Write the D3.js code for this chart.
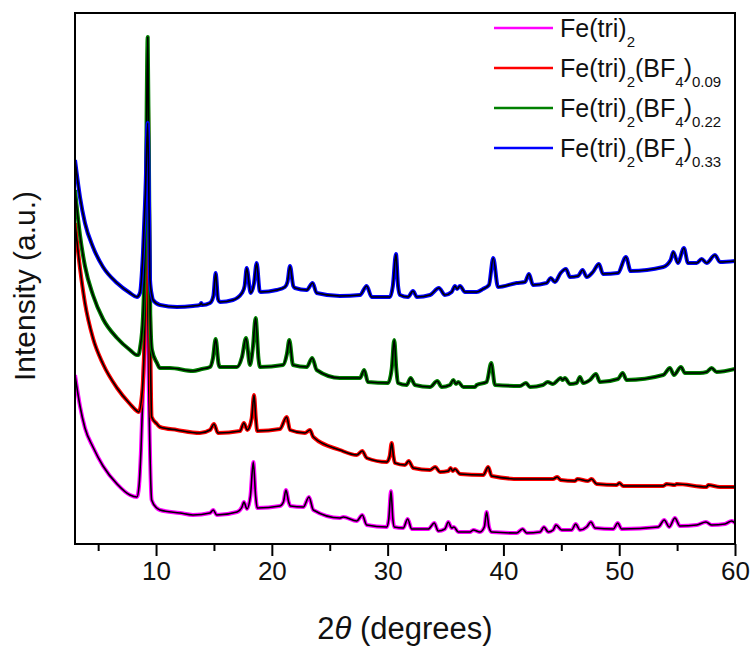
<!DOCTYPE html>
<html>
<head>
<meta charset="utf-8">
<script src="https://cdn.jsdelivr.net/npm/d3@7/dist/d3.min.js"></script>
<style>
  body { margin: 0; background: #fff; }
  text { font-family: "Liberation Sans", Arial, sans-serif; fill: #111; }
</style>
</head>
<body>
<div id="GraphHolder"></div>
<script>
// [2theta (deg), intensity (a.u.)]
var feTri2 = [
  [3.0,169],[3.43,138],[3.86,116],[4.55,97],[5.42,78],[6.63,60],[7.75,49],[8.35,47],
  [8.53,58],[8.7,94],[8.95,180],[9.2,300],[9.38,150],[9.62,44],[10.06,36],[10.34,34],[12.07,31],
  [13.19,29],[14.66,31],[14.94,34],[15.24,29],[16.99,32],[17.42,37],[17.59,42],[17.85,35],
  [18.15,48],[18.4,82],[18.6,48],[18.74,36],[20.7,38],[21.0,42],[21.22,54],[21.45,42],[21.6,38],
  [22.72,37],[23.21,47],[23.58,34],[25.88,26],[26.17,27],[27.33,23],[27.81,29],[28.19,19],
  [29.92,17],[30.1,25],[30.29,53],[30.45,25],[30.57,17],[31.35,16],[31.73,25],[32.08,15],
  [33.51,15],[34.03,21],[34.37,13],[34.95,15],[35.24,22],[35.53,16],[35.73,17],[36.1,12],
  [37.11,12],[37.4,14],[37.97,12],[38.35,17],[38.55,32],[38.75,17],[38.98,12],[41.14,11],
  [41.66,15],[42.01,11],[43.16,12],[43.5,17],[43.87,12],[44.3,14],[44.54,19],[45.03,14],
  [45.89,14],[46.24,20],[46.61,14],[47.19,17],[47.56,22],[47.91,16],[49.49,15],[49.87,21],
  [50.21,15],[53.37,17],[53.89,24],[54.32,17],[54.81,26],[55.24,18],[56.69,19],[57.49,22],
  [57.98,19],[59.13,20],[59.71,23],[60.0,21]
];
var feTri2BF4_009 = [
  [3.0,321],[3.43,276],[3.86,241],[4.55,206],[5.42,180],[6.63,156],[7.75,140],[8.35,133],
  [8.5,132],[8.79,150],[9.05,230],[9.3,444],[9.45,260],[9.62,127],[10.08,120],[10.34,117],
  [11.81,114],[13.79,111],[14.66,114],[15.0,120],[15.35,111],[17.25,113],[17.59,121],[17.88,114],
  [18.25,125],[18.46,149],[18.62,125],[18.74,113],[20.7,115],[21.28,127],[21.57,114],[22.86,111],
  [23.29,114],[23.58,107],[25.88,94],[27.33,89],[27.81,93],[28.19,86],[29.92,82],[30.18,88],
  [30.35,101],[30.5,88],[30.63,81],[31.5,79],[31.82,83],[32.21,76],[33.66,74],[34.11,77],
  [34.52,72],[35.24,73],[35.44,76],[35.62,73],[35.82,75],[36.25,70],[38.26,69],[38.69,77],
  [38.98,68],[41.43,65],[44.28,65],[44.65,67],[44.94,64],[46.18,63],[46.38,65],[47.3,63],
  [47.62,65],[48.05,60],[49.78,59],[50.01,61],[50.35,58],[53.8,58],[54.1,60],[54.81,59],
  [54.96,60],[57.55,57],[57.69,59],[58.7,57],[60.0,57]
];
var feTri2BF4_022 = [
  [3.0,354],[3.43,309],[3.86,278],[4.55,249],[5.42,225],[6.63,206],[7.75,194],[8.35,189],
  [8.47,189],[8.63,197],[8.87,227],[9.1,330],[9.28,507],[9.42,330],[9.5,230],
  [9.65,194],[10.08,181],[10.34,176],[11.2,176],[13.19,173],[13.97,175],[14.66,177],[14.9,185],
  [15.15,205],[15.4,180],[15.52,177],[16.99,177],[17.42,187],[17.77,206],[18.11,179],[18.35,195],
  [18.6,226],[18.85,185],[18.98,177],[20.96,179],[21.3,190],[21.51,204],[21.83,179],[23.01,177],
  [23.49,186],[23.87,174],[25.88,166],[27.61,166],[27.98,174],[28.3,162],[30.03,161],[30.35,175],
  [30.57,204],[30.75,175],[30.89,161],[31.64,159],[31.99,166],[32.36,159],[33.66,157],[34.29,163],
  [34.67,157],[35.38,159],[35.67,164],[35.9,160],[36.1,162],[36.53,157],[37.54,157],[37.69,159],
  [38.55,162],[38.95,181],[39.27,159],[41.43,158],[41.95,161],[42.29,157],[43.41,159],[43.82,162],
  [44.28,160],[44.71,164],[44.94,166],[45.12,164],[45.31,166],[45.75,160],[46.32,161],[46.61,167],
  [46.89,161],[47.47,164],[47.99,170],[48.34,162],[49.89,165],[50.3,171],[50.64,164],[53.8,169],
  [54.38,176],[54.73,169],[55.33,177],[55.68,171],[56.97,171],[57.55,172],[57.98,176],[58.41,172],
  [60.0,175]
];
var feTri2BF4_033 = [
  [3.0,384],[3.43,347],[3.86,321],[4.55,297],[5.42,277],[6.63,261],[7.75,251],[8.35,247],
  [8.61,251],[8.87,291],[9.08,350],[9.28,421],[9.4,330],[9.48,264],[9.65,248],[9.74,244],
  [10.34,239],[11.81,237],[13.19,238],[13.79,239],[13.9,241],[14.0,239],[14.66,241],[14.95,248],
  [15.15,271],[15.35,245],[15.52,242],[16.64,244],[17.42,251],[17.65,258],[17.83,276],[18.17,251],
  [18.45,260],[18.69,281],[18.95,253],[19.04,252],[20.42,254],[21.13,257],[21.35,262],[21.57,278],
  [21.85,258],[22.0,256],[23.01,254],[23.52,261],[23.87,251],[25.88,248],[27.61,249],[28.19,258],
  [28.62,247],[30.2,247],[30.45,258],[30.72,290],[30.9,258],[31.07,249],[31.76,247],[32.19,253],
  [32.53,247],[33.66,249],[34.43,256],[34.95,249],[35.53,252],[35.82,258],[35.99,255],[36.25,258],
  [36.68,252],[37.69,252],[38.23,255],[38.75,259],[39.12,286],[39.53,257],[41.14,261],[41.86,262],
  [42.21,270],[42.55,259],[43.73,261],[44.08,266],[44.45,262],[44.94,271],[45.4,275],[45.75,267],
  [46.44,268],[46.84,274],[47.19,267],[47.73,272],[48.25,280],[48.6,270],[49.89,271],[50.58,287],
  [50.99,273],[53.8,277],[54.44,284],[54.67,292],[55.07,281],[55.59,296],[55.94,281],[56.69,281],
  [57.12,285],[57.55,281],[58.27,289],[58.7,282],[60.0,283]
];

var seriesData = [feTri2, feTri2BF4_009, feTri2BF4_022, feTri2BF4_033];
// legend label pieces: [text, isSubscript]
var seriesLabels = [
  [["Fe(tri)",0],["2",1]],
  [["Fe(tri)",0],["2",1],["(BF",0],["4",1],[")",0],["0.09",1]],
  [["Fe(tri)",0],["2",1],["(BF",0],["4",1],[")",0],["0.22",1]],
  [["Fe(tri)",0],["2",1],["(BF",0],["4",1],[")",0],["0.33",1]]
];
var seriesColors = ["#ff00ff", "#ff0000", "#008000", "#0000ff"];
var majorTicks = [10, 20, 30, 40, 50, 60];
var minorTicks = [5, 15, 25, 35, 45, 55];

// set the dimensions and margins of the graph
var margin = {top: 13, right: 19, bottom: 108, left: 75},
    width = 754 - margin.left - margin.right,
    height = 652 - margin.top - margin.bottom;

var svg = d3.select("#GraphHolder").append("svg")
    .attr("width", width + margin.left + margin.right)
    .attr("height", height + margin.top + margin.bottom)
    .append("g")
    .attr("transform", "translate(" + margin.left + "," + margin.top + ")");

var x = d3.scaleLinear().domain([3, 60]).range([0, width]);
var y = d3.scaleLinear().domain([0, 531]).range([height, 0]);

svg.append("clipPath").attr("id", "plotClip")
    .append("rect").attr("width", width).attr("height", height);

var line = d3.line()
    .x(function(d) { return x(d[0]); })
    .y(function(d) { return y(d[1]); })
    .curve(d3.curveMonotoneX);

// coloured trace with the black trace on top, one pair per sample
var traces = svg.append("g").attr("clip-path", "url(#plotClip)");
seriesData.forEach(function(s, i) {
    traces.append("path")
        .datum(s)
        .attr("d", line)
        .attr("fill", "none")
        .attr("stroke", seriesColors[i])
        .attr("stroke-width", 4)
        .attr("stroke-linejoin", "round");
    traces.append("path")
        .datum(s)
        .attr("d", line)
        .attr("fill", "none")
        .attr("stroke", "#000")
        .attr("stroke-width", 1.6)
        .attr("stroke-linejoin", "round");
});

// x axis: major ticks with labels, minor ticks without
var xAxis = svg.append("g")
    .attr("class", "xaxis")
    .attr("transform", "translate(0," + height + ")")
    .call(d3.axisBottom(x).tickValues(majorTicks).tickSize(12).tickPadding(6).tickFormat(d3.format("d")));
xAxis.select(".domain").remove();
xAxis.selectAll("line").attr("stroke-width", 2);
xAxis.selectAll("text").style("font-size", "26px").attr("fill", "#111");

var xMinor = svg.append("g")
    .attr("transform", "translate(0," + height + ")")
    .call(d3.axisBottom(x).tickValues(minorTicks).tickSize(7).tickFormat(""));
xMinor.select(".domain").remove();
xMinor.selectAll("line").attr("stroke-width", 2);

// plot frame
svg.append("rect")
    .attr("width", width)
    .attr("height", height)
    .attr("fill", "none")
    .attr("stroke", "#000")
    .attr("stroke-width", 2);

// axis labels
var xLabel = svg.append("text")
    .attr("x", width / 2)
    .attr("y", height + 95)
    .style("text-anchor", "middle")
    .style("font-size", "31px");
xLabel.append("tspan").text("2");
xLabel.append("tspan").style("font-style", "italic").text("\u03b8");
xLabel.append("tspan").text(" (degrees)");

svg.append("text")
    .attr("transform", "rotate(-90)")
    .attr("x", -273)
    .attr("y", -40)
    .style("text-anchor", "middle")
    .style("font-size", "30px")
    .text("Intensity (a.u.)");

// legend
var legend = svg.append("g").attr("transform", "translate(" + (494 - margin.left) + "," + (28 - margin.top) + ")");
seriesLabels.forEach(function(parts, i) {
    var row = legend.append("g").attr("transform", "translate(0," + (i * 40) + ")");
    row.append("line")
        .attr("x1", 0).attr("x2", 59)
        .attr("y1", 0).attr("y2", 0)
        .attr("stroke", seriesColors[i])
        .attr("stroke-width", 2.5);
    var t = row.append("text")
        .attr("x", 66)
        .attr("y", 9)
        .style("font-size", "25px");
    var sub = false;
    parts.forEach(function(p) {
        var span = t.append("tspan").text(p[0]);
        if (p[1] && !sub) { span.attr("dy", 10).style("font-size", "15px"); sub = true; }
        else if (p[1]) { span.style("font-size", "15px"); }
        else if (sub) { span.attr("dy", -10); sub = false; }
    });
});
</script>
</body>
</html>
